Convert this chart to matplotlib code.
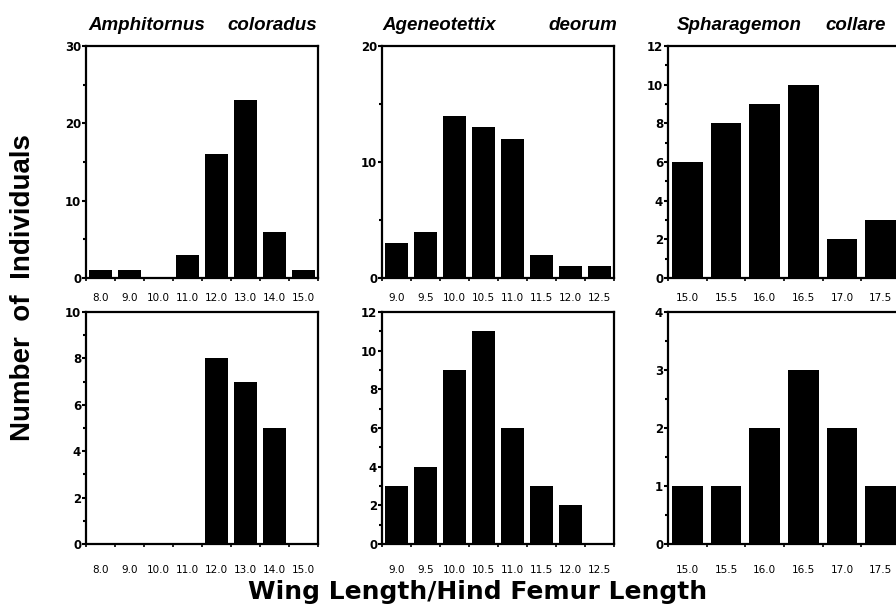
import matplotlib.pyplot as plt
import numpy as np

plt.rcParams['font.family'] = ['DejaVu Sans']

# species names (genus, species) for the three columns
genus = ['Amphitornus', 'Ageneotettix', 'Spharagemon']
epithet = ['coloradus', 'deorum', 'collare']

# wing length / hind femur length classes for each species
bins_amph = ['8.0', '9.0', '10.0', '11.0', '12.0', '13.0', '14.0', '15.0']
bins_agen = ['9.0', '9.5', '10.0', '10.5', '11.0', '11.5', '12.0', '12.5']
bins_spha = ['15.0', '15.5', '16.0', '16.5', '17.0', '17.5']

# counts, top row and bottom row
amph_top = [1, 1, 0, 3, 16, 23, 6, 1]
amph_bot = [0, 0, 0, 0, 8, 7, 5, 0]
agen_top = [3, 4, 14, 13, 12, 2, 1, 1]
agen_bot = [3, 4, 9, 11, 6, 3, 2, 0]
spha_top = [6, 8, 9, 10, 2, 3]
spha_bot = [1, 1, 2, 3, 2, 1]

# y axis: max, major step
ylims_top = [(30, 10), (20, 10), (12, 2)]
ylims_bot = [(10, 2), (12, 2), (4, 1)]

W, H = 896, 613
fig = plt.figure(figsize=(W / 100, H / 100), dpi=100)

col_left = [86, 382, 668]
row_top = [46, 312]
aw, ah = 232, 232

panels = [
    (0, 0, bins_amph, amph_top, ylims_top[0]),
    (0, 1, bins_agen, agen_top, ylims_top[1]),
    (0, 2, bins_spha, spha_top, ylims_top[2]),
    (1, 0, bins_amph, amph_bot, ylims_bot[0]),
    (1, 1, bins_agen, agen_bot, ylims_bot[1]),
    (1, 2, bins_spha, spha_bot, ylims_bot[2]),
]

for r, c, bins, vals, (ymax, step) in panels:
    l = col_left[c]
    t = row_top[r]
    ax = fig.add_axes([l / W, (H - t - ah) / H, aw / W, ah / H])
    x = np.arange(len(bins))
    ax.bar(x, vals, width=0.8, color='black')
    ax.set_xlim(-0.5, len(bins) - 0.5)
    ax.set_ylim(0, ymax)
    ax.set_xticks(x)
    ax.set_xticklabels(bins, fontsize=7.5)
    ax.set_xticks(np.arange(len(bins) + 1) - 0.5, minor=True)
    ax.tick_params(axis='x', which='major', length=0, pad=11 if r == 0 else 15)
    ax.tick_params(axis='x', which='minor', length=2, width=1.2, direction='out')
    ax.set_yticks(np.arange(0, ymax + 0.01, step))
    ax.set_yticks(np.arange(0, ymax + 0.01, step / 2), minor=True)
    ax.tick_params(axis='y', which='major', length=3, width=1.5, pad=0.5, labelsize=8.5)
    ax.tick_params(axis='y', which='minor', length=2, width=1.5)
    for lab in ax.get_yticklabels():
        lab.set_fontweight('bold')
    for s in ax.spines.values():
        s.set_linewidth(1.6)

# column titles, genus and epithet set apart as in the original
gx = [88, 382, 677]
ex = [227, 548, 825]
for i in range(3):
    fig.text(gx[i] / W, 1 - 29.5 / H, genus[i], fontsize=13.5, fontweight='bold',
             style='italic', ha='left', va='baseline', family='Liberation Sans')
    fig.text(ex[i] / W, 1 - 29.5 / H, epithet[i], fontsize=13.5, fontweight='bold',
             style='italic', ha='left', va='baseline', family='Liberation Sans')

fig.text(23 / W, 1 - 288 / H, 'Number  of  Individuals', rotation=90, fontsize=20,
         fontweight='bold', ha='center', va='center', family='Liberation Sans')
fig.text(478 / W, 1 - 599 / H, 'Wing Length/Hind Femur Length', fontsize=18,
         fontweight='bold', ha='center', va='baseline')

fig.savefig('out.png', dpi=100)
